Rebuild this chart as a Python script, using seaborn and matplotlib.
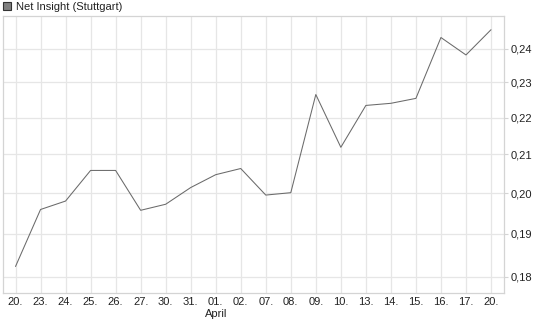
import matplotlib
matplotlib.use("Agg")
import matplotlib.pyplot as plt
import matplotlib.ticker as mticker
import seaborn as sns
import pandas as pd
from matplotlib.patches import Rectangle

dates = ["20.", "23.", "24.", "25.", "26.", "27.", "30.", "31.", "01.", "02.",
         "07.", "08.", "09.", "10.", "13.", "14.", "15.", "16.", "17.", "20."]
prices = [0.1823, 0.1959, 0.1980, 0.2058, 0.2058, 0.1957, 0.1972, 0.2014, 0.2047, 0.2063,
          0.1995, 0.2001, 0.2265, 0.2119, 0.2234, 0.2240, 0.2254, 0.2434, 0.2381, 0.2458]
y_ticks = [0.18, 0.19, 0.20, 0.21, 0.22, 0.23, 0.24]
series_name = "Net Insight (Stuttgart)"
month_label = "April"
month_label_index = 8

sns.set_theme(style="white")
plt.rcParams['font.family'] = ['Liberation Sans', 'DejaVu Sans']

df = pd.DataFrame({"idx": range(len(dates)), "price": prices})

fig = plt.figure(figsize=(5.45, 3.27), dpi=100)
ax = fig.add_axes([3/545, 1 - 293/327, 500.5/545, 277/327])

sns.lineplot(data=df, x="idx", y="price", ax=ax, color="#6a6a6a", linewidth=0.75)

ax.set_yscale("log")
ax.set_ylim(0.1763, 0.2501)
ax.set_xlim(-0.5, len(dates) - 0.5)

ax.yaxis.set_major_locator(mticker.FixedLocator(y_ticks))
ax.yaxis.set_minor_locator(mticker.NullLocator())
ax.yaxis.set_major_formatter(mticker.FuncFormatter(lambda v, p: f"{v:.2f}".replace(".", ",")))
ax.yaxis.tick_right()
ax.yaxis.set_label_position("right")

ax.set_xticks(range(len(dates)))
ax.set_xticklabels(dates)

ax.grid(True, which="major", color="#e6e6e6", linewidth=0.9)
ax.set_axisbelow(True)
for s in ax.spines.values():
    s.set_color("#d4d4d4")
    s.set_linewidth(0.9)

ax.tick_params(axis="both", which="major", labelsize=8, colors="#222222",
               length=3, width=0.8, pad=2)
ax.tick_params(axis="y", color="#d4d4d4")
ax.tick_params(axis="x", color="#e6e6e6", length=0, pad=3)
ax.set_xlabel("")
ax.set_ylabel("")

ax.text(month_label_index, -0.057, month_label, transform=ax.get_xaxis_transform(),
        ha="center", va="top", fontsize=8, color="#222222")

# legend marker and title
fig.patches.append(Rectangle((3/545, 1 - 10/327), 8/545, 8/327, transform=fig.transFigure,
                             facecolor="#808080", edgecolor="#333333", linewidth=0.8))
fig.text(16/545, 1 - 6.5/327, series_name, ha="left", va="center", fontsize=8, color="#222222")

fig.savefig("out.png", dpi=100)
